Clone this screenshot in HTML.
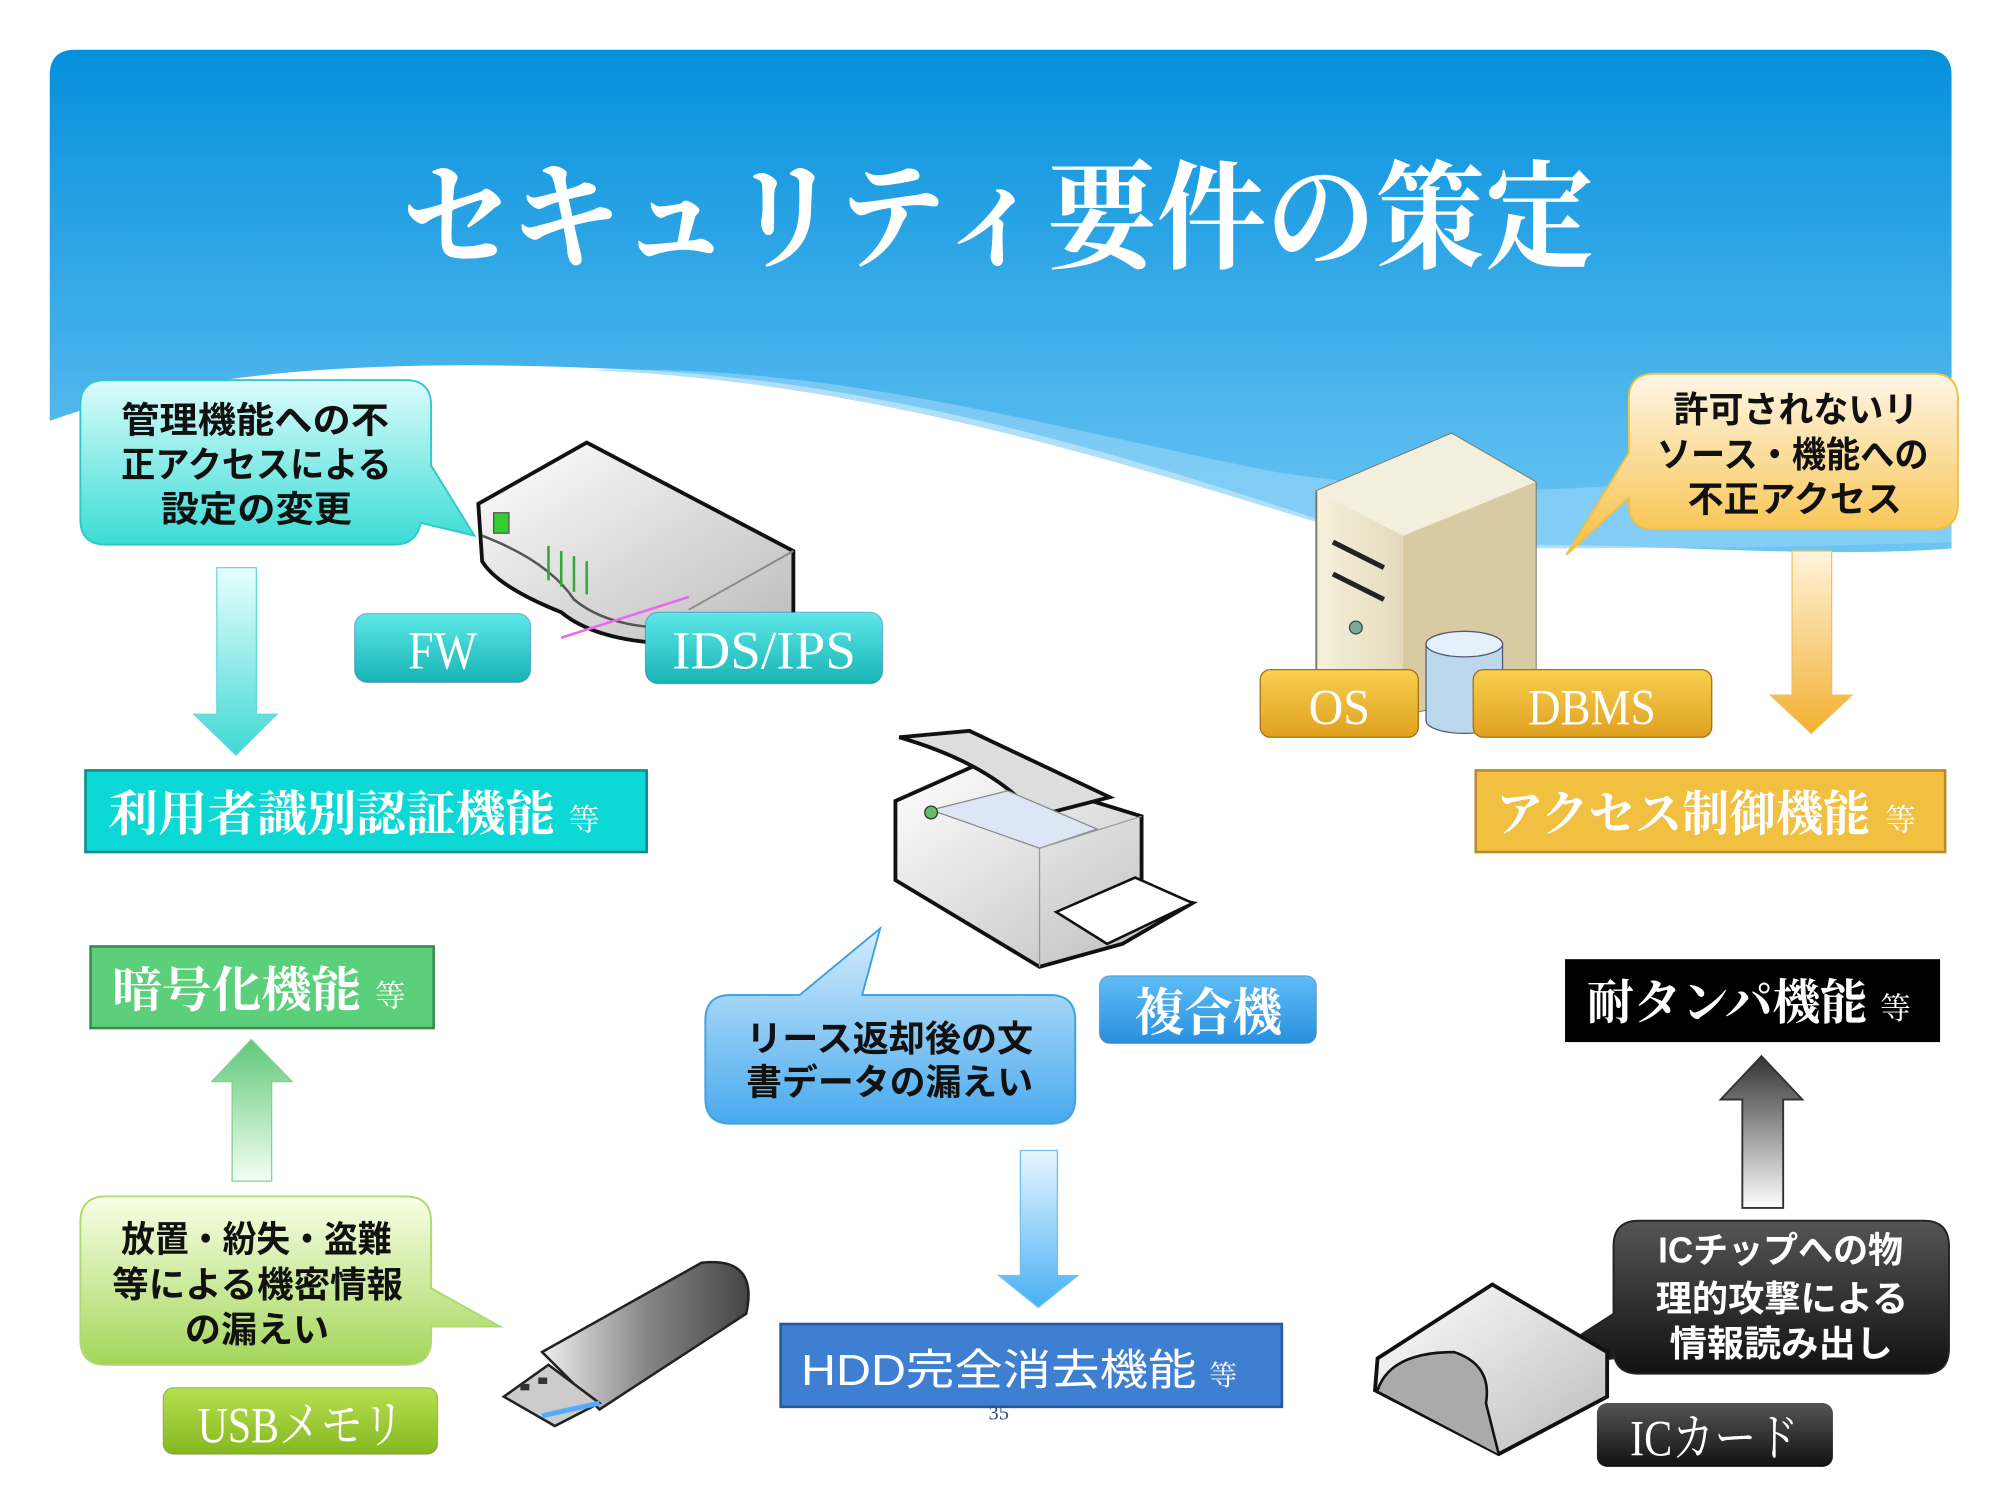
<!DOCTYPE html>
<html><head><meta charset="utf-8"><style>
html,body{margin:0;padding:0;background:#fff;width:2000px;height:1500px;overflow:hidden}
svg{display:block}
.cj{font-family:"Liberation Serif","Noto Serif CJK JP","Noto Serif CJK SC",serif}
.gs{font-family:"Liberation Sans","Noto Sans CJK JP",sans-serif;font-weight:bold}
</style></head><body>
<svg width="2000" height="1500" viewBox="0 0 1568 1176" preserveAspectRatio="none" xmlns="http://www.w3.org/2000/svg">
<defs>
<linearGradient id="sky" x1="0" y1="0" x2="0" y2="1"><stop offset="0" stop-color="#0590dc"/><stop offset="1" stop-color="#6cc6f4"/></linearGradient>
<linearGradient id="cy" x1="0" y1="0" x2="0" y2="1"><stop offset="0" stop-color="#dcfcfc"/><stop offset="1" stop-color="#3adcd4"/></linearGradient>
<linearGradient id="or" x1="0" y1="0" x2="0" y2="1"><stop offset="0" stop-color="#fff6e6"/><stop offset="1" stop-color="#f6bf40"/></linearGradient>
<linearGradient id="bl" x1="0" y1="0" x2="0" y2="1"><stop offset="0" stop-color="#d4ecfc"/><stop offset="1" stop-color="#48aaee"/></linearGradient>
<linearGradient id="gr" x1="0" y1="0" x2="0" y2="1"><stop offset="0" stop-color="#f8ffe6"/><stop offset="1" stop-color="#a4d65a"/></linearGradient>
<linearGradient id="bk" x1="0" y1="0" x2="0" y2="1"><stop offset="0" stop-color="#555"/><stop offset="1" stop-color="#111"/></linearGradient>
<linearGradient id="acy" x1="0" y1="0" x2="0" y2="1"><stop offset="0" stop-color="#e8ffff"/><stop offset="1" stop-color="#40d8d4"/></linearGradient>
<linearGradient id="aor" x1="0" y1="0" x2="0" y2="1"><stop offset="0" stop-color="#fff4dc"/><stop offset="1" stop-color="#f2b030"/></linearGradient>
<linearGradient id="abl" x1="0" y1="0" x2="0" y2="1"><stop offset="0" stop-color="#e8f6ff"/><stop offset="1" stop-color="#48b0f4"/></linearGradient>
<linearGradient id="agr" x1="0" y1="1" x2="0" y2="0"><stop offset="0" stop-color="#f4fff4"/><stop offset="1" stop-color="#60c878"/></linearGradient>
<linearGradient id="agy" x1="0" y1="1" x2="0" y2="0"><stop offset="0" stop-color="#fff"/><stop offset="1" stop-color="#333"/></linearGradient>
<linearGradient id="btc" x1="0" y1="0" x2="0" y2="1"><stop offset="0" stop-color="#5ee8e8"/><stop offset="1" stop-color="#18b4b4"/></linearGradient>
<linearGradient id="btg" x1="0" y1="0" x2="0" y2="1"><stop offset="0" stop-color="#f8d050"/><stop offset="1" stop-color="#e0a020"/></linearGradient>
<linearGradient id="btb" x1="0" y1="0" x2="0" y2="1"><stop offset="0" stop-color="#60bcf4"/><stop offset="1" stop-color="#2890e0"/></linearGradient>
<linearGradient id="btl" x1="0" y1="0" x2="0" y2="1"><stop offset="0" stop-color="#b8e050"/><stop offset="1" stop-color="#84b820"/></linearGradient>
<linearGradient id="metal" x1="0" y1="0" x2="1" y2="1"><stop offset="0" stop-color="#fff"/><stop offset="1" stop-color="#bbb"/></linearGradient>
<linearGradient id="beige" x1="0" y1="0" x2="1" y2="0"><stop offset="0" stop-color="#f6f0dc"/><stop offset="1" stop-color="#c8b88c"/></linearGradient>
<linearGradient id="usb" x1="0" y1="0" x2="1" y2="0"><stop offset="0" stop-color="#eee"/><stop offset="0.5" stop-color="#888"/><stop offset="1" stop-color="#444"/></linearGradient>
</defs>

<!-- header -->
<path d="M59,39 H1510 Q1530,39 1530,59 V430 C1400,440 1250,420 1100,430 C900,360 700,300 500,290 C300,280 150,290 39,330 V59 Q39,39 59,39 Z" fill="url(#sky)"/>
<path d="M460,290 C700,300 900,370 1100,430 C1250,430 1400,430 1530,425 V330 C1350,380 1200,400 1000,370 C800,330 650,285 460,290 Z" fill="#8fd2f6" opacity="0.7"/>
<text x="315" y="203" class="cj" font-size="92" font-weight="bold" fill="#fff" textLength="935" lengthAdjust="spacingAndGlyphs">セキュリティ要件の策定</text>

<!-- cyan callout -->
<path d="M83,298 H318 Q338,298 338,318 V365 L372,420 L330,410 Q326,427 310,427 H83 Q63,427 63,407 V318 Q63,298 83,298 Z" fill="url(#cy)" stroke="#30c8c8" stroke-width="1.5"/>
<g class="gs" font-size="28" fill="#111">
<text x="95" y="339" textLength="210" lengthAdjust="spacingAndGlyphs">管理機能への不</text><text x="95" y="374" textLength="212" lengthAdjust="spacingAndGlyphs">正アクセスによる</text><text x="126" y="409" textLength="150" lengthAdjust="spacingAndGlyphs">設定の変更</text></g>

<!-- cyan arrow -->
<path d="M170,445 H201 V560 H217 L185,592 L152,560 H170 Z" fill="url(#acy)" stroke="#60dada" stroke-width="1"/>
<rect x="67" y="604" width="440" height="64" fill="#0cd8d6" stroke="#148a8a" stroke-width="2"/>
<text x="85" y="651" class="cj" font-size="38" font-weight="bold" fill="#fff" textLength="350" lengthAdjust="spacingAndGlyphs">利用者識別認証機能</text>
<text x="446" y="651" class="cj" font-size="24" fill="#fff">等</text>

<!-- router -->
<path d="M375,395 L460,347 L622,432 L622,490 L540,505 Q470,505 440,480 Q390,460 378,440 Z" fill="url(#metal)" stroke="#111" stroke-width="3"/>
<path d="M378,420 Q430,440 450,470 Q480,495 540,492" fill="none" stroke="#555" stroke-width="2"/>
<path d="M540,478 L622,432" stroke="#888" stroke-width="1.5"/>
<rect x="387" y="402" width="12" height="16" fill="#3c3" stroke="#555"/>
<g stroke="#3a3" stroke-width="2"><line x1="430" y1="428" x2="430" y2="455"/><line x1="440" y1="432" x2="440" y2="460"/><line x1="450" y1="436" x2="450" y2="464"/><line x1="460" y1="440" x2="460" y2="466"/></g>
<line x1="440" y1="500" x2="540" y2="468" stroke="#e6e" stroke-width="2"/>
<rect x="278" y="481" width="138" height="54" rx="10" fill="url(#btc)" stroke="#139" stroke-opacity="0.3"/>
<text x="347" y="524" text-anchor="middle" class="cj" font-size="42" fill="#fff" textLength="54" lengthAdjust="spacingAndGlyphs">FW</text>
<rect x="506" y="480" width="186" height="56" rx="10" fill="url(#btc)" stroke="#139" stroke-opacity="0.3"/>
<text x="527" y="524" class="cj" font-size="42" fill="#fff" textLength="144" lengthAdjust="spacingAndGlyphs">IDS/IPS</text>

<!-- server -->
<path d="M1032,385 L1138,340 L1204,378 L1204,540 L1100,560 L1032,530 Z" fill="url(#beige)" stroke="#776" stroke-width="1.5"/>
<path d="M1032,385 L1138,340 L1204,378 L1100,420 Z" fill="#f4eedc"/>
<path d="M1100,420 L1204,378 L1204,540 L1100,560 Z" fill="#d8cba4"/>
<g stroke="#222" stroke-width="4"><line x1="1045" y1="425" x2="1085" y2="445"/><line x1="1045" y1="450" x2="1085" y2="470"/></g>
<circle cx="1063" cy="492" r="5" fill="#7a9" stroke="#444"/>
<path d="M1118,505 A30,10 0 0 1 1178,505 V565 A30,10 0 0 1 1118,565 Z" fill="#bcd8ec" stroke="#557"/>
<ellipse cx="1148" cy="505" rx="30" ry="10" fill="#e4f0fa" stroke="#557"/>
<rect x="988" y="525" width="124" height="53" rx="8" fill="url(#btg)" stroke="#a87010"/>
<text x="1050" y="568" text-anchor="middle" class="cj" font-size="40" fill="#fff" textLength="48" lengthAdjust="spacingAndGlyphs">OS</text>
<rect x="1155" y="525" width="187" height="53" rx="8" fill="url(#btg)" stroke="#a87010"/>
<text x="1198" y="568" class="cj" font-size="40" fill="#fff" textLength="100" lengthAdjust="spacingAndGlyphs">DBMS</text>

<!-- orange callout -->
<path d="M1297,293 H1515 Q1535,293 1535,313 V395 Q1535,415 1515,415 H1297 Q1277,415 1277,395 V390 L1228,435 L1277,355 V313 Q1277,293 1297,293 Z" fill="url(#or)" stroke="#f0c040" stroke-width="1.5"/>
<g class="gs" font-size="28" fill="#111">
<text x="1312" y="331" textLength="192" lengthAdjust="spacingAndGlyphs">許可されないリ</text><text x="1299" y="366" textLength="213" lengthAdjust="spacingAndGlyphs">ソース・機能への</text><text x="1323" y="401" textLength="168" lengthAdjust="spacingAndGlyphs">不正アクセス</text></g>
<path d="M1405,432 H1436 V545 H1452 L1420,575 L1388,545 H1405 Z" fill="url(#aor)" stroke="#f0c060" stroke-width="1"/>
<rect x="1157" y="604" width="368" height="64" fill="#f2c040" stroke="#b88a28" stroke-width="2"/>
<text x="1173" y="651" class="cj" font-size="38" font-weight="bold" fill="#fff" textLength="293" lengthAdjust="spacingAndGlyphs">アクセス制御機能</text>
<text x="1478" y="651" class="cj" font-size="24" fill="#fff">等</text>

<!-- printer -->
<path d="M702,628 L765,600 L895,640 L895,700 L935,708 L880,740 L815,758 L702,690 Z" fill="url(#metal)" stroke="#111" stroke-width="3"/>
<path d="M705,578 L760,573 L870,625 L812,640 Q780,600 705,578 Z" fill="#ddd" stroke="#111" stroke-width="3"/>
<path d="M730,635 L790,620 L860,650 L815,665 Z" fill="#dde6f4" stroke="#888"/>
<circle cx="730" cy="637" r="5" fill="#6b6" stroke="#333"/>
<path d="M815,665 L895,640" stroke="#999"/>
<path d="M815,665 L815,758" stroke="#999"/>
<path d="M828,715 L890,688 L935,708 L868,740 Z" fill="#fff" stroke="#111" stroke-width="2"/>

<!-- blue callout -->
<path d="M573,780 H627 L690,728 L676,780 H823 Q843,780 843,800 V861 Q843,881 823,881 H573 Q553,881 553,861 V800 Q553,780 573,780 Z" fill="url(#bl)" stroke="#40a0e0" stroke-width="1.5"/>
<g class="gs" font-size="28" fill="#111">
<text x="585" y="824" textLength="225" lengthAdjust="spacingAndGlyphs">リース返却後の文</text><text x="585" y="858" textLength="225" lengthAdjust="spacingAndGlyphs">書データの漏えい</text></g>
<rect x="862" y="765" width="170" height="53" rx="8" fill="url(#btb)" stroke="#1a70b0" stroke-opacity="0.4"/>
<text x="890" y="808" class="cj" font-size="40" font-weight="bold" fill="#fff" textLength="115" lengthAdjust="spacingAndGlyphs">複合機</text>
<path d="M800,902 H829 V1000 H845 L814,1025 L783,1000 H800 Z" fill="url(#abl)" stroke="#70c0f4" stroke-width="1"/>
<rect x="612" y="1038" width="393" height="65" fill="#3f7fd2" stroke="#245aa0" stroke-width="2"/>
<text x="628" y="1086" font-family="'Liberation Sans','Noto Sans CJK JP',sans-serif" font-size="34" fill="#fff" textLength="310" lengthAdjust="spacingAndGlyphs">HDD完全消去機能</text>
<text x="948" y="1086" font-family="'Liberation Serif','Noto Serif CJK JP',serif" font-size="22" fill="#fff">等</text>
<text x="783" y="1113" text-anchor="middle" font-family="'Liberation Serif',serif" font-size="16" fill="#2a4a8a">35</text>

<!-- green -->
<rect x="71" y="742" width="269" height="64" fill="#5ccf7a" stroke="#3a8a50" stroke-width="2"/>
<text x="88" y="789" class="cj" font-size="38" font-weight="bold" fill="#fff" textLength="195" lengthAdjust="spacingAndGlyphs">暗号化機能</text>
<text x="294" y="789" class="cj" font-size="24" fill="#fff">等</text>
<path d="M182,926 H213 V848 H229 L197,815 L166,848 H182 Z" fill="url(#agr)" stroke="#80d090" stroke-width="1"/>
<path d="M83,938 H318 Q338,938 338,958 V1010 L392,1040 L338,1040 V1050 Q338,1070 318,1070 H83 Q63,1070 63,1050 V958 Q63,938 83,938 Z" fill="url(#gr)" stroke="#b0d870" stroke-width="1.5"/>
<g class="gs" font-size="28" fill="#111">
<text x="95" y="981" textLength="212" lengthAdjust="spacingAndGlyphs">放置・紛失・盗難</text><text x="88" y="1017" textLength="228" lengthAdjust="spacingAndGlyphs">等による機密情報</text><text x="145" y="1052" textLength="113" lengthAdjust="spacingAndGlyphs">の漏えい</text></g>
<rect x="128" y="1088" width="215" height="52" rx="8" fill="url(#btl)" stroke="#6a9020" stroke-opacity="0.5"/>
<text x="155" y="1131" class="cj" font-size="40" fill="#fff" textLength="162" lengthAdjust="spacingAndGlyphs">USBメモリ</text>
<!-- usb -->
<path d="M425,1060 L550,990 Q595,985 585,1030 L470,1105 Z" fill="url(#usb)" stroke="#222" stroke-width="2"/>
<path d="M395,1095 L430,1070 L470,1100 L435,1118 Z" fill="#ccc" stroke="#222" stroke-width="2"/>
<rect x="408" y="1085" width="7" height="5" fill="#333"/><rect x="422" y="1080" width="7" height="5" fill="#333"/>
<path d="M425,1110 L470,1100" stroke="#5af" stroke-width="4"/>

<!-- black -->
<rect x="1227" y="752" width="294" height="65" fill="#000"/>
<text x="1244" y="799" class="cj" font-size="38" font-weight="bold" fill="#fff" textLength="220" lengthAdjust="spacingAndGlyphs">耐タンパ機能</text>
<text x="1474" y="799" class="cj" font-size="24" fill="#fff">等</text>
<path d="M1366,947 H1398 V862 H1413 L1381,828 L1349,862 H1366 Z" fill="url(#agy)" stroke="#333" stroke-width="1.5"/>
<path d="M1285,957 H1508 Q1528,957 1528,977 V1057 Q1528,1077 1508,1077 H1285 Q1265,1077 1265,1057 V1065 L1200,1072 L1265,1030 V977 Q1265,957 1285,957 Z" fill="url(#bk)" stroke="#222" stroke-width="1.5"/>
<g class="gs" font-size="28" fill="#fff">
<text x="1300" y="990" textLength="192" lengthAdjust="spacingAndGlyphs">ICチップへの物</text><text x="1298" y="1028" textLength="198" lengthAdjust="spacingAndGlyphs">理的攻撃による</text><text x="1309" y="1063" textLength="175" lengthAdjust="spacingAndGlyphs">情報読み出し</text></g>
<path d="M1080,1065 L1170,1007 L1260,1060 L1260,1095 L1175,1140 L1078,1090 Z" fill="url(#metal)" stroke="#111" stroke-width="3"/>
<path d="M1080,1090 Q1090,1060 1140,1060 Q1170,1070 1165,1100 L1175,1140" fill="#aaa" stroke="#111" stroke-width="2"/>
<rect x="1252" y="1100" width="185" height="50" rx="8" fill="url(#bk)"/>
<text x="1278" y="1141" class="cj" font-size="40" fill="#fff" textLength="132" lengthAdjust="spacingAndGlyphs">ICカード</text>
</svg>
</body></html>
